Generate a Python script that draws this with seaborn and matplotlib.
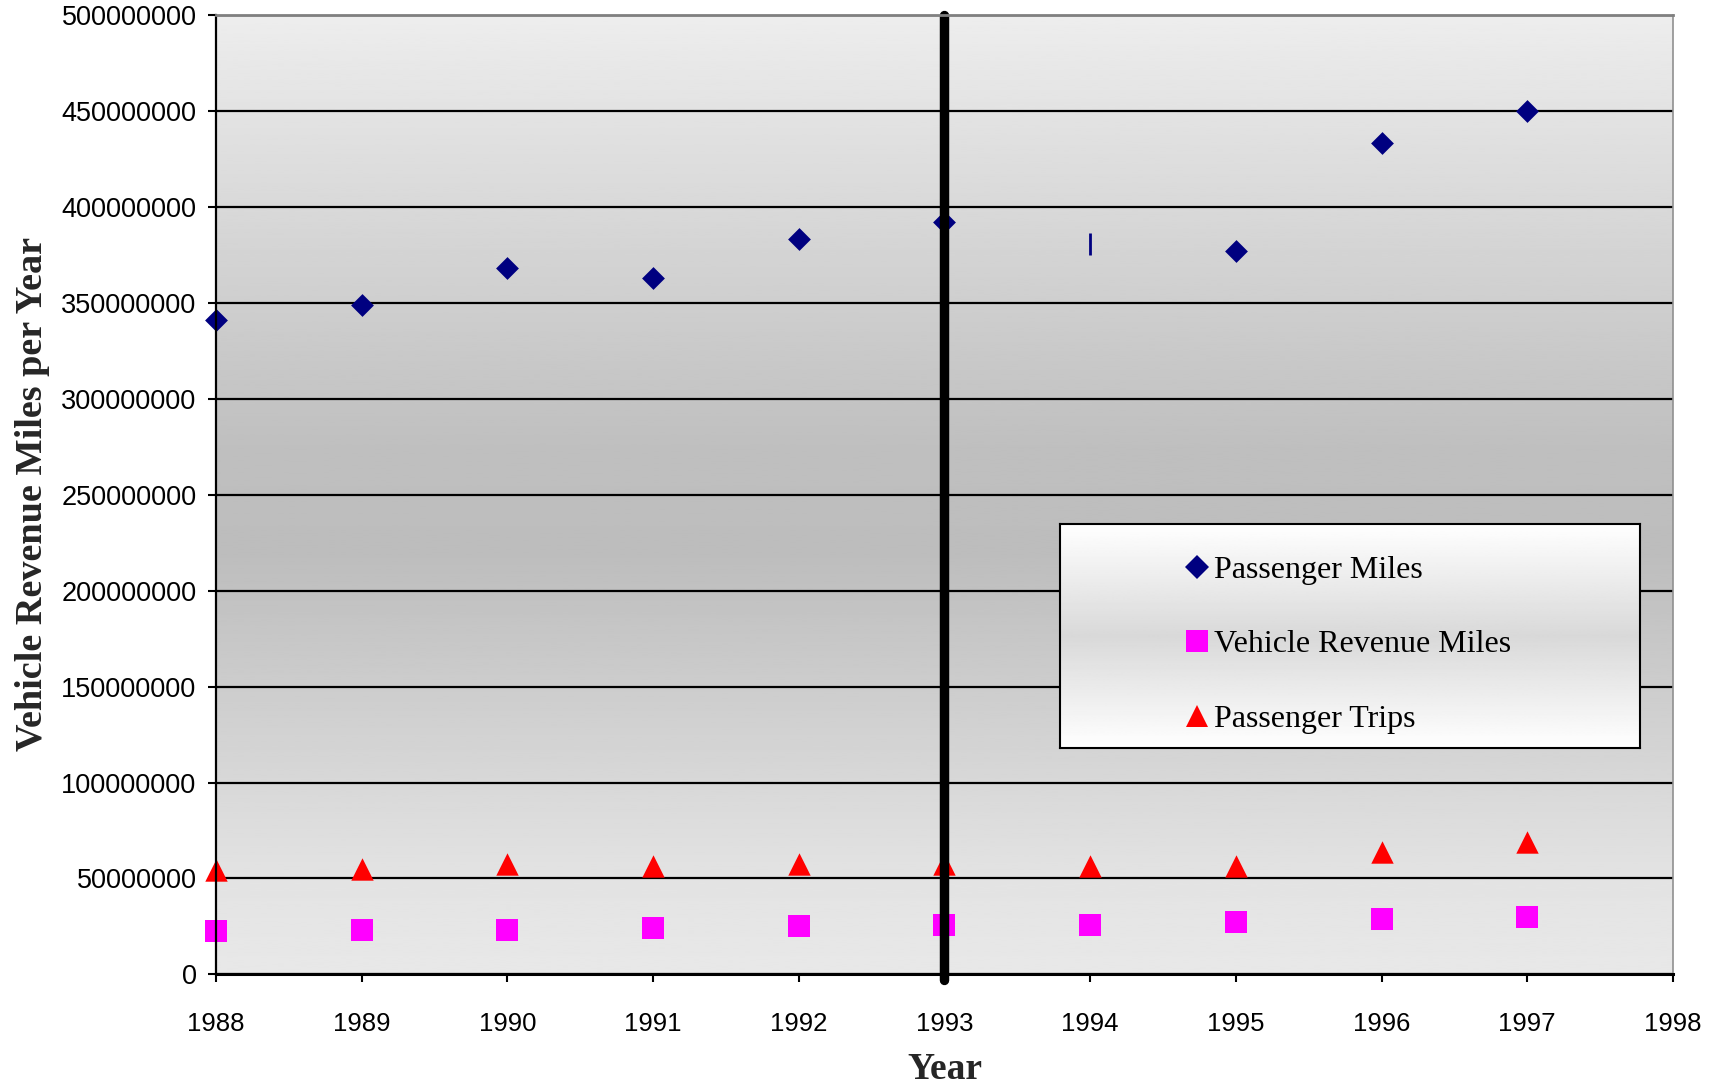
import numpy as np
import pandas as pd
import matplotlib
matplotlib.use("Agg")
import matplotlib.pyplot as plt
from matplotlib.lines import Line2D
from matplotlib import ticker
import seaborn as sns

# ---- data ----
years = [1988, 1989, 1990, 1991, 1992, 1993, 1994, 1995, 1996, 1997]
passenger_miles = [341e6, 349e6, 368e6, 363e6, 383e6, 392e6, 380.5e6, 377e6, 433e6, 450e6]
vehicle_revenue_miles = [22.8e6, 23.0e6, 23.3e6, 24.4e6, 25.4e6, 25.8e6, 25.8e6, 27.3e6, 29.1e6, 30.0e6]
passenger_trips = [54.2e6, 55.2e6, 57.3e6, 56.7e6, 57.8e6, 57.8e6, 56.7e6, 56.7e6, 64.0e6, 69.2e6]
series_names = ["Passenger Miles", "Vehicle Revenue Miles", "Passenger Trips"]
x_ticks = [1988, 1989, 1990, 1991, 1992, 1993, 1994, 1995, 1996, 1997, 1998]
y_ticks = [0, 50e6, 100e6, 150e6, 200e6, 250e6, 300e6, 350e6, 400e6, 450e6, 500e6]
divider_year = 1993
odd_year = 1994  # point drawn with a bar marker in the original

sns.set_style("white")
plt.rcParams["font.family"] = ["Liberation Sans", "DejaVu Sans"]

df = pd.DataFrame({"year": years, "pm": passenger_miles,
                   "vrm": vehicle_revenue_miles, "pt": passenger_trips})

fig = plt.figure(figsize=(17.13, 10.86), dpi=100)
ax = fig.add_axes([0.1261, 0.1027, 0.8505, 0.8838])

# background gradient
yy = np.linspace(0, 1, 400)
shade = np.interp(yy, [0.0, 0.1, 0.44, 0.55, 1.0], [0.91, 0.89, 0.74, 0.75, 0.93])
ax.imshow(shade[:, None], extent=[0, 1, 0, 1], transform=ax.transAxes,
          cmap="gray", vmin=0, vmax=1, aspect="auto", origin="lower", zorder=0)

navy = "#000080"
magenta = "#FF00FF"
red = "#FF0000"

main = df[df["year"] != odd_year]
odd = df[df["year"] == odd_year]
sns.scatterplot(data=main, x="year", y="pm", marker="D", s=135, color=navy,
                linewidth=0, ax=ax, legend=False, clip_on=False, zorder=4)
sns.scatterplot(data=odd, x="year", y="pm", marker="|", s=230, color=navy,
                linewidth=2, ax=ax, legend=False, clip_on=False, zorder=4)
sns.scatterplot(data=df, x="year", y="vrm", marker="s", s=245, color=magenta,
                linewidth=0, ax=ax, legend=False, clip_on=False, zorder=4)
sns.scatterplot(data=df, x="year", y="pt", marker="^", s=260, color=red,
                linewidth=0, ax=ax, legend=False, clip_on=False, zorder=4)

ax.axvline(divider_year, ymin=-0.006, ymax=1, color="black", lw=6.8,
           zorder=5, clip_on=False)

ax.set_xlim(1988, 1998)
ax.set_ylim(0, 500e6)
ax.set_xticks(x_ticks)
ax.set_yticks(y_ticks)
ax.yaxis.set_major_formatter(ticker.StrMethodFormatter("{x:.0f}"))
ax.grid(axis="y", color="black", lw=1.6, zorder=1)
ax.grid(axis="x", visible=False)
ax.set_axisbelow(False)
for l in ax.get_ygridlines():
    l.set_zorder(1)

ax.tick_params(axis="y", direction="out", length=6, width=1.5, pad=8,
               labelsize=19.5, left=True, colors="black")
ax.tick_params(axis="x", direction="out", length=6, width=1.5, pad=21,
               labelsize=18.5, bottom=True, colors="black")

for side in ["left", "bottom"]:
    ax.spines[side].set_color("black")
ax.spines["left"].set_linewidth(1.6)
ax.spines["bottom"].set_linewidth(2.2)
ax.spines["top"].set_color("#808080")
ax.spines["top"].set_linewidth(2.0)
ax.spines["right"].set_color("#909090")
ax.spines["right"].set_linewidth(1.2)
for s in ax.spines.values():
    s.set_zorder(6)

ax.set_xlabel("Year", fontsize=27, fontweight="bold", family="Liberation Serif")
ax.set_ylabel("Vehicle Revenue Miles per Year", fontsize=27.5, fontweight="bold",
              family="Liberation Serif")
ax.xaxis.set_label_coords(0.5, -0.081)
ax.yaxis.set_label_coords(-0.114, 0.501)

# legend box with gradient
lax = fig.add_axes([1060 / 1713, 1 - 748 / 1086, 580 / 1713, 224 / 1086])
ly = np.linspace(0, 1, 200)
lshade = np.interp(ly, [0.0, 0.5, 1.0], [1.0, 0.85, 1.0])
lax.imshow(lshade[:, None], extent=[0, 1, 0, 1], cmap="gray", vmin=0, vmax=1,
           aspect="auto", origin="lower")
lax.set_xlim(0, 1)
lax.set_ylim(0, 1)
lax.set_xticks([])
lax.set_yticks([])
for s in lax.spines.values():
    s.set_color("black")
    s.set_linewidth(1.5)

handles = [
    Line2D([], [], marker="D", ls="none", color=navy, markersize=12, markeredgewidth=0),
    Line2D([], [], marker="s", ls="none", color=magenta, markersize=15.5, markeredgewidth=0),
    Line2D([], [], marker="^", ls="none", color=red, markersize=15.5, markeredgewidth=0),
]
leg = lax.legend(handles, series_names, loc="upper left", bbox_to_anchor=(0.215, 0.86),
                 frameon=False, prop={"family": "Liberation Serif", "size": 23},
                 handlelength=0.8, handletextpad=0.12, labelspacing=1.42,
                 borderpad=0, borderaxespad=0)
for t in leg.get_texts():
    t.set_color("black")

fig.savefig("out.png", dpi=100, facecolor="white")
